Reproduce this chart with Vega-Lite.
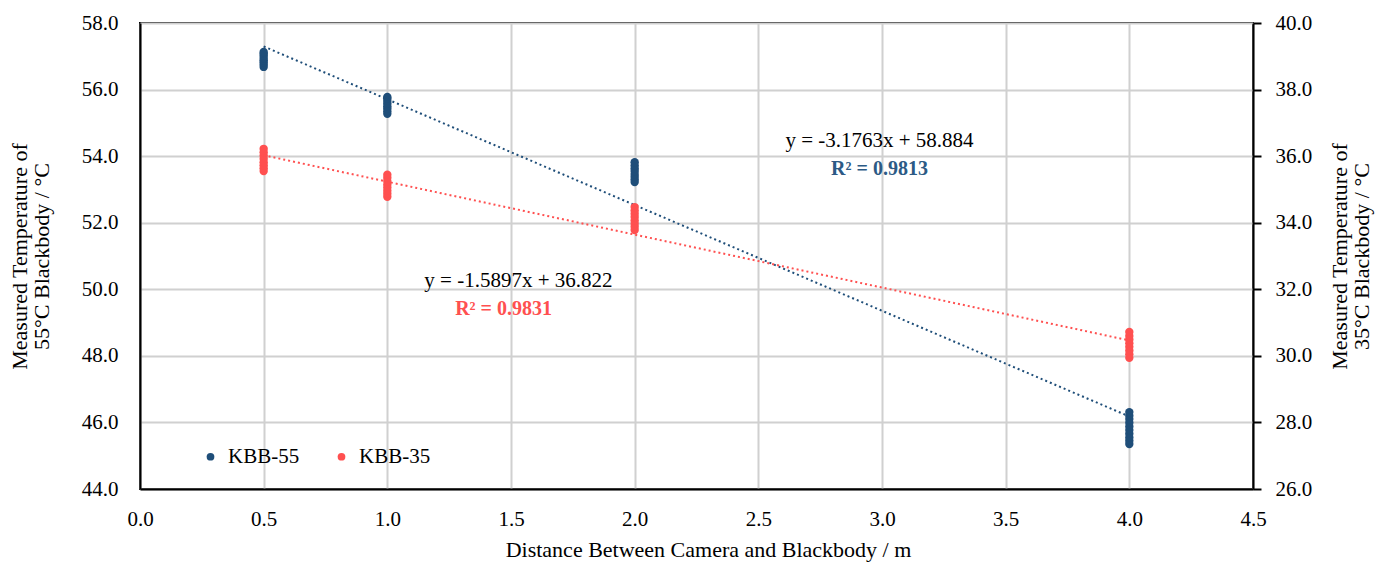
{
  "$schema": "https://vega.github.io/schema/vega-lite/v6.json",
  "width": 1113,
  "height": 466,
  "autosize": "none",
  "padding": {"left": 140, "top": 23, "right": 144, "bottom": 79},
  "background": "white",
  "config": {
    "font": "Liberation Serif, DejaVu Serif, serif",
    "view": {"stroke": "black", "strokeWidth": 2},
    "text": {"font": "Liberation Serif, DejaVu Serif, serif"},
    "legend": {"labelFont": "Liberation Serif, DejaVu Serif, serif"},
    "axis": {
      "labelFont": "Liberation Serif, DejaVu Serif, serif",
      "titleFont": "Liberation Serif, DejaVu Serif, serif",
      "labelFontSize": 21,
      "titleFontSize": 22,
      "titleFontWeight": "normal",
      "labelColor": "#000000",
      "titleColor": "#000000",
      "domainColor": "#000000",
      "domainWidth": 2,
      "tickColor": "#000000",
      "tickWidth": 2,
      "gridColor": "#d0d0d0",
      "gridWidth": 2,
      "labelFlush": false
    }
  },
  "datasets": {
    "pts": [
      {"series": "KBB-55", "distance": 0.5, "temp": 56.68},
      {"series": "KBB-55", "distance": 0.5, "temp": 56.75},
      {"series": "KBB-55", "distance": 0.5, "temp": 56.82},
      {"series": "KBB-55", "distance": 0.5, "temp": 56.88},
      {"series": "KBB-55", "distance": 0.5, "temp": 56.95},
      {"series": "KBB-55", "distance": 0.5, "temp": 57.02},
      {"series": "KBB-55", "distance": 0.5, "temp": 57.08},
      {"series": "KBB-55", "distance": 0.5, "temp": 57.13},
      {"series": "KBB-55", "distance": 1.0, "temp": 55.27},
      {"series": "KBB-55", "distance": 1.0, "temp": 55.35},
      {"series": "KBB-55", "distance": 1.0, "temp": 55.43},
      {"series": "KBB-55", "distance": 1.0, "temp": 55.5},
      {"series": "KBB-55", "distance": 1.0, "temp": 55.58},
      {"series": "KBB-55", "distance": 1.0, "temp": 55.66},
      {"series": "KBB-55", "distance": 1.0, "temp": 55.73},
      {"series": "KBB-55", "distance": 1.0, "temp": 55.78},
      {"series": "KBB-55", "distance": 2.0, "temp": 53.22},
      {"series": "KBB-55", "distance": 2.0, "temp": 53.3},
      {"series": "KBB-55", "distance": 2.0, "temp": 53.38},
      {"series": "KBB-55", "distance": 2.0, "temp": 53.46},
      {"series": "KBB-55", "distance": 2.0, "temp": 53.55},
      {"series": "KBB-55", "distance": 2.0, "temp": 53.63},
      {"series": "KBB-55", "distance": 2.0, "temp": 53.72},
      {"series": "KBB-55", "distance": 2.0, "temp": 53.82},
      {"series": "KBB-55", "distance": 4.0, "temp": 45.35},
      {"series": "KBB-55", "distance": 4.0, "temp": 45.45},
      {"series": "KBB-55", "distance": 4.0, "temp": 45.55},
      {"series": "KBB-55", "distance": 4.0, "temp": 45.66},
      {"series": "KBB-55", "distance": 4.0, "temp": 45.77},
      {"series": "KBB-55", "distance": 4.0, "temp": 45.88},
      {"series": "KBB-55", "distance": 4.0, "temp": 45.99},
      {"series": "KBB-55", "distance": 4.0, "temp": 46.1},
      {"series": "KBB-55", "distance": 4.0, "temp": 46.2},
      {"series": "KBB-55", "distance": 4.0, "temp": 46.31},
      {"series": "KBB-35", "distance": 0.5, "temp": 35.55},
      {"series": "KBB-35", "distance": 0.5, "temp": 35.64},
      {"series": "KBB-35", "distance": 0.5, "temp": 35.73},
      {"series": "KBB-35", "distance": 0.5, "temp": 35.82},
      {"series": "KBB-35", "distance": 0.5, "temp": 35.92},
      {"series": "KBB-35", "distance": 0.5, "temp": 36.02},
      {"series": "KBB-35", "distance": 0.5, "temp": 36.12},
      {"series": "KBB-35", "distance": 0.5, "temp": 36.22},
      {"series": "KBB-35", "distance": 1.0, "temp": 34.78},
      {"series": "KBB-35", "distance": 1.0, "temp": 34.87},
      {"series": "KBB-35", "distance": 1.0, "temp": 34.96},
      {"series": "KBB-35", "distance": 1.0, "temp": 35.06},
      {"series": "KBB-35", "distance": 1.0, "temp": 35.15},
      {"series": "KBB-35", "distance": 1.0, "temp": 35.25},
      {"series": "KBB-35", "distance": 1.0, "temp": 35.35},
      {"series": "KBB-35", "distance": 1.0, "temp": 35.44},
      {"series": "KBB-35", "distance": 2.0, "temp": 33.78},
      {"series": "KBB-35", "distance": 2.0, "temp": 33.88},
      {"series": "KBB-35", "distance": 2.0, "temp": 33.97},
      {"series": "KBB-35", "distance": 2.0, "temp": 34.07},
      {"series": "KBB-35", "distance": 2.0, "temp": 34.17},
      {"series": "KBB-35", "distance": 2.0, "temp": 34.27},
      {"series": "KBB-35", "distance": 2.0, "temp": 34.37},
      {"series": "KBB-35", "distance": 2.0, "temp": 34.47},
      {"series": "KBB-35", "distance": 4.0, "temp": 29.94},
      {"series": "KBB-35", "distance": 4.0, "temp": 30.05},
      {"series": "KBB-35", "distance": 4.0, "temp": 30.16},
      {"series": "KBB-35", "distance": 4.0, "temp": 30.27},
      {"series": "KBB-35", "distance": 4.0, "temp": 30.38},
      {"series": "KBB-35", "distance": 4.0, "temp": 30.49},
      {"series": "KBB-35", "distance": 4.0, "temp": 30.6},
      {"series": "KBB-35", "distance": 4.0, "temp": 30.72}
    ],
    "trend": [
      {"series": "KBB-55", "distance": 0.5, "temp": 57.296},
      {"series": "KBB-55", "distance": 4.0, "temp": 46.179},
      {"series": "KBB-35", "distance": 0.5, "temp": 36.027},
      {"series": "KBB-35", "distance": 4.0, "temp": 30.463}
    ],
    "notes": [
      {"note": "eq55", "label": "y = -3.1763x + 58.884", "distance": 2.99, "temp": 54.45},
      {"note": "r55", "label": "R² = 0.9813", "distance": 2.99, "temp": 53.61},
      {"note": "eq35", "label": "y = -1.5897x + 36.822", "distance": 1.53, "temp": 50.25},
      {"note": "r35", "label": "R² = 0.9831", "distance": 1.47, "temp": 49.41}
    ]
  },
  "encoding": {
    "x": {
      "field": "distance",
      "type": "quantitative",
      "scale": {"domain": [0, 4.5], "nice": false, "zero": false},
      "axis": {
        "title": "Distance Between Camera and Blackbody / m",
        "values": [0, 0.5, 1, 1.5, 2, 2.5, 3, 3.5, 4, 4.5],
        "format": ".1f",
        "ticks": false,
        "labelPadding": 19,
        "grid": true,
        "titleX": 568,
        "titleY": 67,
        "titleBaseline": "alphabetic"
      }
    }
  },
  "layer": [
    {
      "encoding": {
        "y": {
          "field": "temp",
          "type": "quantitative",
          "scale": {"domain": [44, 58], "nice": false, "zero": false},
          "axis": {
            "orient": "left",
            "title": ["Measured Temperature of", "55°C Blackbody / °C"],
            "values": [44, 46, 48, 50, 52, 54, 56, 58],
            "format": ".1f",
            "ticks": false,
            "labelPadding": 22,
            "grid": true,
            "titlePadding": 28,
            "titleLineHeight": 22
          }
        }
      },
      "layer": [
        {
          "data": {"name": "pts"},
          "transform": [{"filter": "datum.series === 'KBB-55'"}],
          "mark": {"type": "point", "filled": true, "opacity": 1, "size": 70},
          "encoding": {
            "color": {
              "field": "series",
              "type": "nominal",
              "scale": {"domain": ["KBB-55", "KBB-35"], "range": ["#1F4E79", "#FF5050"]},
              "legend": {
                "orient": "none",
                "legendX": 60,
                "legendY": 423,
                "direction": "horizontal",
                "title": null,
                "symbolType": "circle",
                "symbolSize": 60,
                "labelFontSize": 21,
                "labelColor": "#000000",
                "columnPadding": 31,
                "labelOffset": 7
              }
            }
          }
        },
        {
          "data": {"name": "trend"},
          "transform": [{"filter": "datum.series === 'KBB-55'"}],
          "mark": {"type": "line", "color": "#1F4E79", "strokeWidth": 2, "strokeDash": [2, 3]},
          "encoding": {}
        },
        {
          "data": {"name": "notes"},
          "transform": [{"filter": "datum.note === 'eq55' || datum.note === 'eq35'"}],
          "mark": {"type": "text", "fontSize": 21, "color": "#000000"},
          "encoding": {"text": {"field": "label"}}
        },
        {
          "data": {"name": "notes"},
          "transform": [{"filter": "datum.note === 'r55'"}],
          "mark": {"type": "text", "fontSize": 20, "fontWeight": "bold", "color": "#2C5A85"},
          "encoding": {"text": {"field": "label"}}
        },
        {
          "data": {"name": "notes"},
          "transform": [{"filter": "datum.note === 'r35'"}],
          "mark": {"type": "text", "fontSize": 20, "fontWeight": "bold", "color": "#FF5050"},
          "encoding": {"text": {"field": "label"}}
        }
      ]
    },
    {
      "encoding": {
        "y": {
          "field": "temp",
          "type": "quantitative",
          "scale": {"domain": [26, 40], "nice": false, "zero": false},
          "axis": {
            "orient": "right",
            "title": ["Measured Temperature of", "35°C Blackbody / °C"],
            "values": [26, 28, 30, 32, 34, 36, 38, 40],
            "format": ".1f",
            "ticks": true,
            "tickSize": 8,
            "labelPadding": 14,
            "grid": false,
            "titleAngle": -90,
            "titlePadding": 18,
            "titleLineHeight": 22
          }
        }
      },
      "layer": [
        {
          "data": {"name": "pts"},
          "transform": [{"filter": "datum.series === 'KBB-35'"}],
          "mark": {"type": "point", "filled": true, "opacity": 1, "size": 70},
          "encoding": {
            "color": {
              "field": "series",
              "type": "nominal",
              "scale": {"domain": ["KBB-55", "KBB-35"], "range": ["#1F4E79", "#FF5050"]}
            }
          }
        },
        {
          "data": {"name": "trend"},
          "transform": [{"filter": "datum.series === 'KBB-35'"}],
          "mark": {"type": "line", "color": "#FF5050", "strokeWidth": 2, "strokeDash": [2, 3]},
          "encoding": {}
        }
      ]
    }
  ],
  "resolve": {"scale": {"y": "independent"}}
}
